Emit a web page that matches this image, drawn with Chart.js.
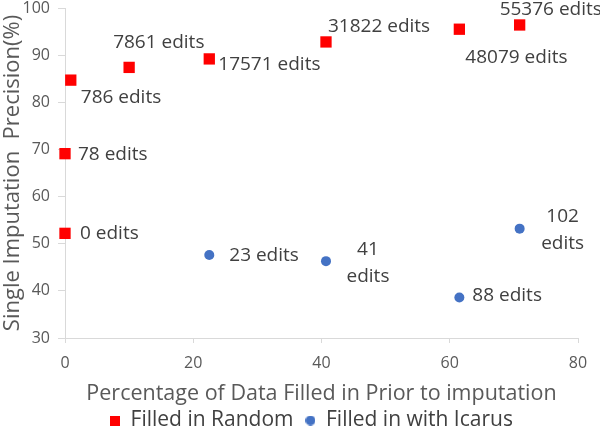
<!DOCTYPE html>
<html lang="en">
<head>
<meta charset="UTF-8">
<script src="https://cdn.jsdelivr.net/npm/chart.js"></script>
<title>Single Imputation Precision</title>
<style>
  html, body { margin: 0; padding: 0; background: #fff; }
  #wrap { width: 600px; height: 431px; }
</style>
</head>
<body>
<div id="wrap"><canvas id="chart"></canvas></div>
<script>
// values
var randomFilled    = [0, 0, 0.9, 10, 22.5, 40.7, 61.5, 70.9];
var randomPrecision = [52.2, 69.1, 84.7, 87.4, 89.2, 92.8, 95.5, 96.4];
var randomEdits     = [['0 edits'], ['78 edits'], ['786 edits'], ['7861 edits'], ['17571 edits'], ['31822 edits'], ['48079 edits'], ['55376 edits']];

var icarusFilled    = [22.5, 40.7, 61.5, 70.9];
var icarusPrecision = [47.6, 46.3, 38.6, 53.2];
var icarusEdits     = [['23 edits'], ['41', 'edits'], ['88 edits'], ['102', 'edits']];

var xTicks = [0, 20, 40, 60, 80];
var yTicks = [30, 40, 50, 60, 70, 80, 90, 100];

// where each "edits" label sits next to its point (pixels)
var randomLabelPos = [
  { dx: 15, dy: 0, align: 'left' },
  { dx: 13, dy: 1, align: 'left' },
  { dx: 10, dy: 17, align: 'left' },
  { dx: -16, dy: -25, align: 'left' },
  { dx: 9, dy: 6, align: 'left' },
  { dx: 2, dy: -15, align: 'left' },
  { dx: 6, dy: 28, align: 'left' },
  { dx: -20, dy: -15, align: 'left' }
];
var icarusLabelPos = [
  { dx: 20, dy: 1, align: 'left' },
  { dx: 42, dy: -12, align: 'center' },
  { dx: 13, dy: -2, align: 'left' },
  { dx: 43, dy: -12, align: 'center' }
];

function toPoints(xs, ys) {
  return xs.map(function (x, i) { return { x: x, y: ys[i] }; });
}

// small legend markers (chart.js sizes them from boxHeight otherwise)
function marker(shape, color, size) {
  var c = document.createElement('canvas');
  c.width = size; c.height = size;
  var g = c.getContext('2d');
  g.fillStyle = color;
  if (shape == 'rect') {
    g.fillRect(0, 0, size, size);
  } else {
    g.beginPath();
    g.arc(size / 2, size / 2, size / 2, 0, Math.PI * 2);
    g.fill();
  }
  return c;
}
var legendMarkers = [marker('rect', '#ff0000', 10), marker('circle', '#4472c4', 10)];

var editLabels = {
  id: 'editLabels',
  afterDatasetsDraw: function (chart) {
    var ctx = chart.ctx;
    ctx.save();
    ctx.fillStyle = '#404040';
    ctx.font = '19px "Open Sans", sans-serif';
    ctx.textBaseline = 'middle';
    chart.data.datasets.forEach(function (ds, di) {
      var meta = chart.getDatasetMeta(di);
      meta.data.forEach(function (pt, i) {
        var pos = ds.labelPos[i];
        ctx.textAlign = pos.align;
        ds.edits[i].forEach(function (line, li) {
          ctx.fillText(line, pt.x + pos.dx, pt.y + pos.dy + li * 27);
        });
      });
    });
    ctx.restore();
  }
};

var grey = '#d9d9d9';
var font = '"Open Sans", sans-serif';
var ctx = document.getElementById('chart').getContext('2d');
new Chart(ctx, {
  type: 'scatter',
  data: {
    datasets: [{
      label: 'Filled in Random',
      data: toPoints(randomFilled, randomPrecision),
      edits: randomEdits,
      labelPos: randomLabelPos,
      pointStyle: 'rect',
      pointRadius: 8,
      pointHoverRadius: 8,
      backgroundColor: '#ff0000',
      borderColor: '#ff0000',
      borderWidth: 0,
      clip: false
    }, {
      label: 'Filled in with Icarus',
      data: toPoints(icarusFilled, icarusPrecision),
      edits: icarusEdits,
      labelPos: icarusLabelPos,
      pointStyle: 'circle',
      pointRadius: 5,
      pointHoverRadius: 5,
      backgroundColor: '#4472c4',
      borderColor: '#4472c4',
      borderWidth: 0,
      clip: false
    }]
  },
  options: {
    responsive: true,
    maintainAspectRatio: false,
    animation: false,
    events: [],
    layout: { padding: { top: 0, right: 0, bottom: -10, left: 23 } },
    plugins: {
      tooltip: { enabled: false },
      legend: {
        position: 'bottom',
        labels: {
          usePointStyle: true,
          boxWidth: 10,
          boxHeight: 10,
          padding: 12,
          color: '#404040',
          font: { family: font, size: 21 },
          generateLabels: function (chart) {
            var items = Chart.defaults.plugins.legend.labels.generateLabels(chart);
            items.forEach(function (it, i) { it.pointStyle = legendMarkers[i]; });
            return items;
          }
        }
      }
    },
    scales: {
      x: {
        type: 'linear',
        min: xTicks[0],
        max: xTicks[xTicks.length - 1],
        afterBuildTicks: function (s) { s.ticks = xTicks.map(function (v) { return { value: v }; }); },
        afterFit: function (s) { s.height = 60; s.paddingRight = 22; s.paddingLeft = 0; },
        grid: { drawOnChartArea: false, color: grey, tickLength: 5 },
        border: { color: grey },
        ticks: { color: '#595959', padding: 11, font: { family: font, size: 16 } },
        title: {
          display: true,
          text: 'Percentage of Data Filled in Prior to imputation',
          color: '#595959',
          font: { family: font, size: 21.5 },
          padding: { top: 0, bottom: -9 }
        }
      },
      y: {
        type: 'linear',
        min: yTicks[0],
        max: yTicks[yTicks.length - 1],
        afterBuildTicks: function (s) { s.ticks = yTicks.map(function (v) { return { value: v }; }); },
        afterFit: function (s) { s.width = 42; s.paddingTop = 7; s.paddingBottom = 0; },
        grid: { drawOnChartArea: false, color: grey, tickLength: 7 },
        border: { color: grey },
        ticks: { color: '#595959', padding: 8, font: { family: font, size: 16 } },
        title: {
          display: true,
          text: 'Single Imputation  Precision(%)',
          color: '#595959',
          font: { family: font, size: 22 },
          padding: { top: -23, bottom: 0 }
        }
      }
    }
  },
  plugins: [editLabels]
});
</script>
</body>
</html>
